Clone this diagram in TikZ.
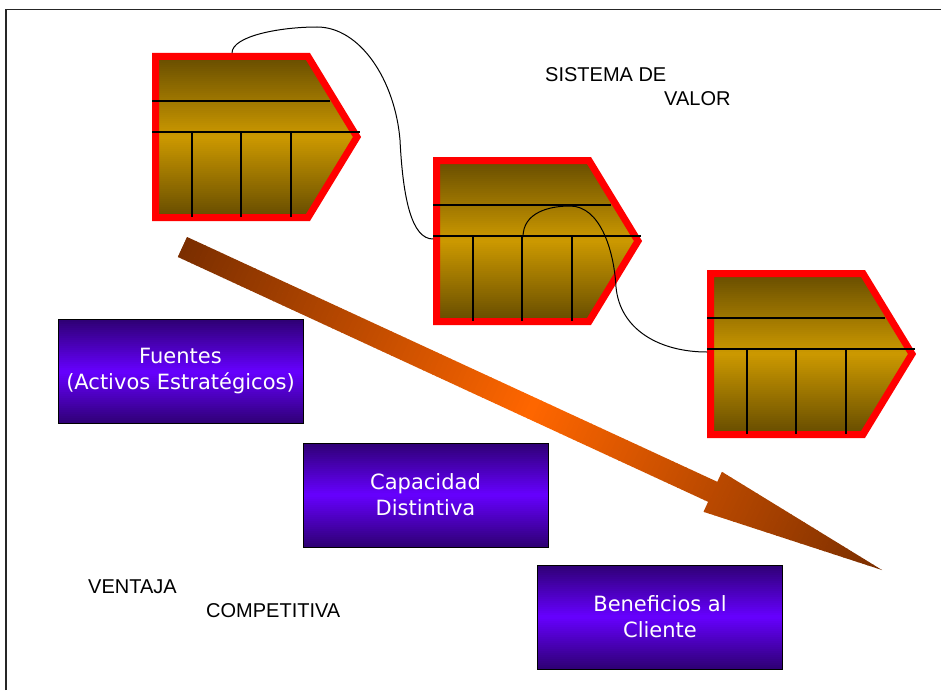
\documentclass[tikz,border=0pt]{standalone}
\usepackage{fontspec}
\setmainfont{Liberation Sans}
\newfontfamily\boxfont{DejaVu Sans}
\definecolor{chevdark}{HTML}{624900}
\definecolor{chevgold}{HTML}{CC9900}
\definecolor{boxdark}{HTML}{2E0073}
\definecolor{boxviolet}{HTML}{6600FF}
\definecolor{arrowdark}{HTML}{7A2E00}
\definecolor{arroworange}{HTML}{FF6600}
\begin{document}
\begin{tikzpicture}[x=1pt,y=-1pt,
  frameline/.style={draw=black!85, line width=1.3pt},
  chevborder/.style={draw=red, line width=7pt, line join=miter},
  chevline/.style={draw=black, line width=1.2pt},
  link/.style={draw=black, line width=1pt},
  % vertical dark-bright-dark gradient painted in thin strips inside a node
  violetfill/.style={path picture={
    \foreach \i in {0,...,52} {
      \pgfmathsetmacro\p{min(abs(\i+0.5-26)/26*100,100)}
      \fill[boxdark!\p!boxviolet]
        ([yshift={-\i*2pt}]path picture bounding box.north west) rectangle
        ([yshift={-(\i*2+2.6)*1pt}]path picture bounding box.north east);
    }}},
  purplebox/.style={draw=black, line width=0.8pt, inner sep=0pt,
    minimum width=245, minimum height=104, violetfill,
    text=white, align=center, font=\boxfont\fontsize{21}{26}\selectfont},
  plainlabel/.style={inner sep=0pt, anchor=base west,
    font=\fontsize{20}{23}\selectfont},
  chevron/.pic={
    \begin{scope}
      \clip (3.5,3.5) -- (156,3.5) -- (205,84) -- (156,164.5)
        -- (3.5,164.5) -- cycle;
      \foreach \i in {0,...,84} {
        \pgfmathsetmacro\p{min(abs(\i+0.5-42)/42*100,100)}
        \fill[chevdark!\p!chevgold] (0,\i*2) rectangle (212,\i*2+2.6);
      }
    \end{scope}
    \path[chevborder] (3.5,3.5) -- (156,3.5) -- (205,84) -- (156,164.5)
      -- (3.5,164.5) -- cycle;
    \draw[chevline] (0,48) -- (178,48);
    \draw[chevline] (0,79) -- (208,79);
    \foreach \x in {40,89,139} \draw[chevline] (\x,79) -- (\x,164);
    \coordinate (-top) at (80,0);
    \coordinate (-left) at (0,82);
    \coordinate (-mid) at (90,80);
  }]
\useasboundingbox (0,0) rectangle (941,690);

% page frame (top and left edges)
\draw[frameline] (6,690) -- (6,9.5) -- (941,9.5);

% value-chain chevrons
\pic (c1) at (152,53) {chevron};
\pic (c2) at (433,157) {chevron};
\pic (c3) at (707,270) {chevron};

% links between the chains
\draw[link] (c1-top) .. controls +(0,-17) and (280,27) .. (317,27)
  .. controls (360,27) and (395,80) .. (400,140)
  .. controls (403,200) and (412,239) .. (c2-left);
\draw[link] (c2-mid) .. controls +(0,-25) and (550,206) .. (570,206)
  .. controls (600,206) and (614,250) .. (616,287)
  .. controls (620,330) and (660,352) .. (c3-left);

% large diagonal arrow, dark at both ends and orange in the middle
\coordinate (arrowtail) at (182.5,247);
\begin{scope}
  \clip (187.1,237.0) -- (717.3,481.8) -- (721.9,471.8) -- (882,570)
    -- (703.5,511.8) -- (708.1,501.8) -- (177.9,257.0) -- cycle;
  \begin{scope}[shift={(arrowtail)}, rotate=-24.8]
    \foreach \i in {-1,...,156} {
      \pgfmathsetmacro\p{min(abs(\i+0.5-77)/77*100,100)}
      \fill[arrowdark!\p!arroworange] (\i*5,-40) rectangle (\i*5+5.6,40);
    }
  \end{scope}
\end{scope}

% boxes
\node[purplebox] (fuentes) at (180.5,371.5) {Fuentes\\(Activos Estratégicos)};
\node[purplebox] (capacidad) at (425.5,495) {Capacidad\\Distintiva};
\node[purplebox] (beneficios) at (660,617) {Beneficios al\\Cliente};

% labels
\node[plainlabel] (sistema) at (545,82) {SISTEMA DE};
\node[plainlabel] (valor) at (664,106) {VALOR};
\node[plainlabel] (ventaja) at (88,593) {VENTAJA};
\node[plainlabel] (competitiva) at (206,617) {COMPETITIVA};
\end{tikzpicture}
\end{document}
